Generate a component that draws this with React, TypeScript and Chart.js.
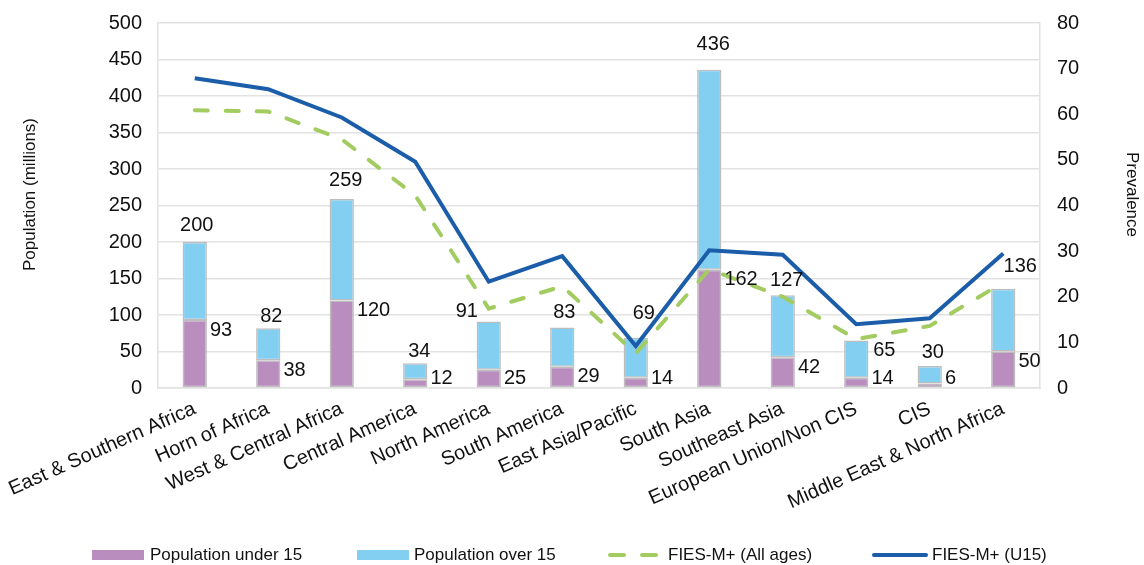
import React, { useEffect, useRef } from "react";
import { Chart, registerables } from "chart.js";

Chart.register(...registerables);

const categories = [
  "East & Southern Africa",
  "Horn of Africa",
  "West & Central Africa",
  "Central America",
  "North America",
  "South America",
  "East Asia/Pacific",
  "South Asia",
  "Southeast Asia",
  "European Union/Non CIS",
  "CIS",
  "Middle East & North Africa",
];

const totalPopulation = [200, 82, 259, 34, 91, 83, 69, 436, 127, 65, 30, 136];
const populationUnder15 = [93, 38, 120, 12, 25, 29, 14, 162, 42, 14, 6, 50];
const populationOver15 = totalPopulation.map((t, i) => t - populationUnder15[i]);

const fiesAllAges = [60.9, 60.6, 54.5, 42.2, 17.4, 22.3, 7.6, 26.0, 20.0, 10.7, 13.6, 23.1];
const fiesU15 = [67.9, 65.5, 59.3, 49.6, 23.3, 28.9, 9.2, 30.2, 29.2, 14.0, 15.3, 29.5];

const leftAxisMax = 500;
const leftAxisStep = 50;
const rightAxisMax = 80;
const rightAxisStep = 10;

const leftAxisTitle = "Population (millions)";
const rightAxisTitle = "Prevalence";

// label nudges (pixels) for the total labels, relative to "centered above the bar"
const totalLabelDx = [2, 3, 4, 4, -22, 2, 8, 4, 4, 28, 3, 17];
const totalLabelDy = [-2, 3, -3, 3, 5, 0, -9, -10, 0, 25, 1, -7];

const FONT = '"Liberation Sans", Arial, Helvetica, sans-serif';
const PURPLE = "#B98DBE";
const LIGHTBLUE = "#82CFF2";
const GREEN = "#A2CC60";
const BLUE = "#1B5DA9";
const GRID = "#E2E2E2";
const TEXT = "#111111";

const labelPlugin = {
  id: "barLabels",
  afterDatasetsDraw(chart: any) {
    const ctx = chart.ctx as CanvasRenderingContext2D;
    const under = chart.getDatasetMeta(2).data;
    const over = chart.getDatasetMeta(3).data;
    ctx.save();
    ctx.font = `20px ${FONT}`;
    ctx.fillStyle = TEXT;
    ctx.textBaseline = "middle";
    under.forEach((bar: any, i: number) => {
      const b = bar.getProps(["x", "y", "base", "width"], true);
      const o = over[i].getProps(["x", "y", "base", "width"], true);
      ctx.textAlign = "left";
      const yU = Math.min(b.y + 10, b.base - 9);
      ctx.fillText(String(populationUnder15[i]), b.x + b.width / 2 + 3, yU);
      ctx.textAlign = "center";
      ctx.fillText(
        String(totalPopulation[i]),
        o.x + totalLabelDx[i],
        o.y - 15 + totalLabelDy[i]
      );
    });
    ctx.restore();
  },
};

const legendPlugin = {
  id: "customLegend",
  afterDraw(chart: any) {
    const ctx = chart.ctx as CanvasRenderingContext2D;
    const area = chart.chartArea;
    ctx.save();
    // axis titles
    ctx.font = `17px ${FONT}`;
    ctx.fillStyle = TEXT;
    ctx.textAlign = "center";
    ctx.textBaseline = "middle";
    const midY = (area.top + area.bottom) / 2 - 11;
    ctx.save();
    ctx.translate(30, midY);
    ctx.rotate(-Math.PI / 2);
    ctx.fillText(leftAxisTitle, 0, 0);
    ctx.restore();
    ctx.save();
    ctx.translate(1132, midY);
    ctx.rotate(Math.PI / 2);
    ctx.fillText(rightAxisTitle, 0, 0);
    ctx.restore();

    // legend
    const y = 555;
    ctx.font = `17px ${FONT}`;
    ctx.textAlign = "left";
    ctx.fillStyle = PURPLE;
    ctx.fillRect(92, y - 5, 52, 10);
    ctx.fillStyle = TEXT;
    ctx.fillText("Population under 15", 150, y);
    ctx.fillStyle = LIGHTBLUE;
    ctx.fillRect(357, y - 5, 52, 10);
    ctx.fillStyle = TEXT;
    ctx.fillText("Population over 15", 414, y);
    ctx.strokeStyle = GREEN;
    ctx.lineWidth = 4;
    ctx.lineCap = "round";
    ctx.beginPath();
    ctx.moveTo(610, y);
    ctx.lineTo(624, y);
    ctx.moveTo(642, y);
    ctx.lineTo(656, y);
    ctx.stroke();
    ctx.fillText("FIES-M+ (All ages)", 668, y);
    ctx.strokeStyle = BLUE;
    ctx.beginPath();
    ctx.moveTo(874, y);
    ctx.lineTo(926, y);
    ctx.stroke();
    ctx.fillText("FIES-M+ (U15)", 932, y);
    ctx.restore();
  },
};

export default function App() {
  const canvasRef = useRef<HTMLCanvasElement | null>(null);

  useEffect(() => {
    if (!canvasRef.current) return;
    const chart = new Chart(canvasRef.current, {
      type: "bar",
      data: {
        labels: categories,
        datasets: [
          {
            type: "line",
            label: "FIES-M+ (U15)",
            data: fiesU15,
            yAxisID: "y1",
            borderColor: BLUE,
            backgroundColor: BLUE,
            borderWidth: 4,
            pointRadius: 0,
            tension: 0,
            order: 0,
          } as any,
          {
            type: "line",
            label: "FIES-M+ (All ages)",
            data: fiesAllAges,
            yAxisID: "y1",
            borderColor: GREEN,
            backgroundColor: GREEN,
            borderWidth: 4,
            borderDash: [13, 18],
            borderCapStyle: "round",
            pointRadius: 0,
            tension: 0,
            order: 1,
          } as any,
          {
            type: "bar",
            label: "Population under 15",
            data: populationUnder15,
            yAxisID: "y",
            backgroundColor: PURPLE,
            borderColor: "#BDBDBD",
            borderWidth: 1.5,
            borderSkipped: false,
            stack: "pop",
            order: 2,
          },
          {
            type: "bar",
            label: "Population over 15",
            data: populationOver15,
            yAxisID: "y",
            backgroundColor: LIGHTBLUE,
            borderColor: "#BDBDBD",
            borderWidth: 1.5,
            borderSkipped: false,
            stack: "pop",
            order: 3,
          },
        ],
      },
      options: {
        responsive: false,
        animation: false,
        layout: { padding: { top: 23, left: 0, right: 0, bottom: 0 } },
        datasets: {
          bar: { categoryPercentage: 1, barPercentage: 0.33 },
        },
        plugins: {
          legend: { display: false },
          tooltip: { enabled: false },
        },
        scales: {
          x: {
            stacked: true,
            grid: { display: false, drawTicks: false },
            border: { display: true, color: GRID, width: 1.5 },
            ticks: {
              autoSkip: false,
              minRotation: 24,
              maxRotation: 24,
              padding: 9,
              color: TEXT,
              font: { family: FONT, size: 20 },
            },
            afterFit: (s: any) => {
              s.height = 177;
              s.paddingLeft = 0;
              s.paddingRight = 0;
            },
          },
          y: {
            stacked: true,
            position: "left",
            min: 0,
            max: leftAxisMax,
            ticks: {
              stepSize: leftAxisStep,
              padding: 16,
              color: TEXT,
              font: { family: FONT, size: 20 },
            },
            grid: { color: GRID, lineWidth: 1.5, drawTicks: false },
            border: { display: true, color: GRID, width: 1.5 },
            title: { display: false, text: leftAxisTitle },
            afterFit: (s: any) => {
              s.width = 158;
              s.paddingTop = 0;
              s.paddingBottom = 0;
            },
          },
          y1: {
            position: "right",
            min: 0,
            max: rightAxisMax,
            ticks: {
              stepSize: rightAxisStep,
              padding: 17,
              color: TEXT,
              font: { family: FONT, size: 20 },
            },
            grid: { display: false, drawTicks: false },
            border: { display: true, color: GRID, width: 1.5 },
            title: { display: false, text: rightAxisTitle },
            afterFit: (s: any) => {
              s.width = 104;
              s.paddingTop = 0;
              s.paddingBottom = 0;
            },
          },
        },
      },
      plugins: [labelPlugin, legendPlugin],
    });
    return () => chart.destroy();
  }, []);

  return (
    <div style={{ position: "fixed", left: 0, top: 0, width: 1144, height: 565, background: "#fff" }}>
      <canvas ref={canvasRef} width={1144} height={565} />
    </div>
  );
}
